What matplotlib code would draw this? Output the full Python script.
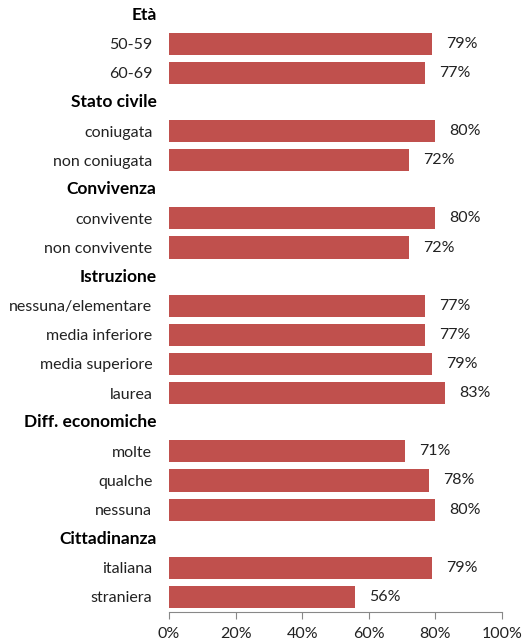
import matplotlib.pyplot as plt
import matplotlib.transforms as mtransforms
import numpy as np

plt.rcParams['font.family'] = ['Lato', 'DejaVu Sans']

groups = ['Età', 'Stato civile', 'Convivenza', 'Istruzione', 'Diff. economiche', 'Cittadinanza']
categories = [
    ['50-59', '60-69'],
    ['coniugata', 'non coniugata'],
    ['convivente', 'non convivente'],
    ['nessuna/elementare', 'media inferiore', 'media superiore', 'laurea'],
    ['molte', 'qualche', 'nessuna'],
    ['italiana', 'straniera'],
]
values = [
    [79, 77],
    [80, 72],
    [80, 72],
    [77, 77, 79, 83],
    [71, 78, 80],
    [79, 56],
]

bar_color = '#C0504D'

# build one row per header and per category, top to bottom
labels, is_header, rows = [], [], []
for g, cats, vals in zip(groups, categories, values):
    labels.append(g)
    is_header.append(True)
    rows.append(None)
    for c, v in zip(cats, vals):
        labels.append(c)
        is_header.append(False)
        rows.append(v)

n = len(labels)
y = np.arange(n)

fig = plt.figure(figsize=(5.29, 6.4), dpi=100)
ax = fig.add_axes([0.3195, 0.0445, 0.6295, 0.9555])

for yi, v in zip(y, rows):
    if v is None:
        continue
    ax.barh(yi, v, height=0.76, color=bar_color, edgecolor='none')
    ax.text(v + 4.2, yi, f'{v}%', va='center', ha='left', fontsize=11.5, color='#222222')

ax.set_ylim(n - 0.5, -0.5)
ax.set_xlim(0, 100)
ax.set_yticks(y)
ax.set_yticklabels(['' if h else lab for lab, h in zip(labels, is_header)],
                   fontsize=11.5, color='#222222')
ax.tick_params(axis='y', length=0, pad=12)

# group headers: bold, a little larger, sitting slightly right of the labels
hdr_trans = mtransforms.blended_transform_factory(ax.transAxes, ax.transData) + \
    mtransforms.ScaledTranslation(-9 / 72, 0, fig.dpi_scale_trans)
for yi, lab, h in zip(y, labels, is_header):
    if h:
        ax.text(0, yi, lab, transform=hdr_trans, ha='right', va='center',
                fontsize=12.5, fontweight='bold', color='black')

ax.set_xticks(np.arange(0, 101, 20))
ax.set_xticklabels([f'{t}%' for t in range(0, 101, 20)], fontsize=11.5, color='#222222')
ax.tick_params(axis='x', length=5, color='#888888', direction='out', pad=6)

for s in ['top', 'right', 'left']:
    ax.spines[s].set_visible(False)
ax.spines['bottom'].set_color('#888888')

fig.savefig('out.png', dpi=100)
